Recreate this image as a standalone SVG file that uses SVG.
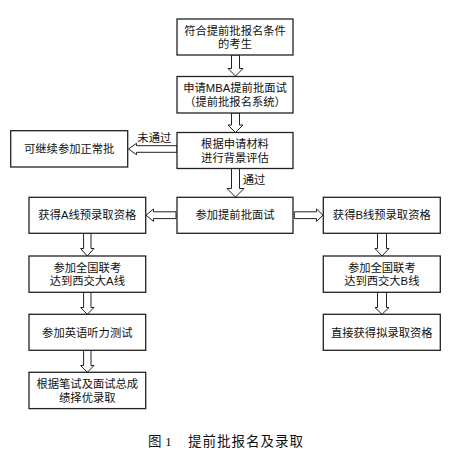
<svg xmlns="http://www.w3.org/2000/svg" width="468" height="460" viewBox="0 0 468 460">
<style>
.box{fill:#fff;stroke:#222;stroke-width:1.3}
.arr{fill:#fff;stroke:#222;stroke-width:1}
.t{font-family:"Liberation Sans","Noto Sans CJK SC",sans-serif;font-size:11.3px;fill:#111;text-anchor:middle}
.cap{font-family:"Liberation Serif","Noto Sans CJK SC",serif;font-size:13.5px;fill:#111}
</style>
<rect width="468" height="460" fill="#fff"/>
<g id="connectors">
<polygon class="arr" points="231.5,55 239.5,55 239.5,68.5 243,68.5 235.5,76 228,68.5 231.5,68.5"/>
<polygon class="arr" points="231.5,113 239.5,113 239.5,125 243,125 235.5,132.5 228,125 231.5,125"/>
<polygon class="arr" points="231.5,168.5 239.5,168.5 239.5,188.5 244,188.5 235.5,197 227,188.5 231.5,188.5"/>
<polygon class="arr" points="177,145.7 136.5,145.7 136.5,143.3 128.5,149 136.5,154.7 136.5,152.3 177,152.3"/>
<polygon class="arr" points="176,211.8 153.5,211.8 153.5,209 146,215.2 153.5,221.4 153.5,218.6 176,218.6"/>
<polygon class="arr" points="294.3,211.8 316.5,211.8 316.5,209 323,215.2 316.5,221.4 316.5,218.6 294.3,218.6"/>
<polygon class="arr" points="83.6,233.3 91,233.3 91,248.5 94,248.5 87.3,256 80.6,248.5 83.6,248.5"/>
<polygon class="arr" points="83.6,292.3 91,292.3 91,307.5 94,307.5 87.3,314.3 80.6,307.5 83.6,307.5"/>
<polygon class="arr" points="83.6,350.3 91,350.3 91,365.5 94,365.5 87.3,372.3 80.6,365.5 83.6,365.5"/>
<polygon class="arr" points="377.5,233.3 386.5,233.3 386.5,248.5 389,248.5 382,256 375,248.5 377.5,248.5"/>
<polygon class="arr" points="377.5,292.3 386.5,292.3 386.5,307.5 389,307.5 382,314.3 375,307.5 377.5,307.5"/>
<text class="t" x="154.3" y="141.5">未通过</text>
<text class="t" x="254" y="183.5">通过</text>
</g>
<g id="n1"><rect class="box" x="177" y="19" width="116" height="36"/><text class="t" x="235" y="34.8">符合提前批报名条件</text><text class="t" x="235" y="48.3">的考生</text></g>
<g id="n2"><rect class="box" x="177" y="76.5" width="116" height="36.5"/><text class="t" x="235" y="92.3">申请MBA提前批面试</text><text class="t" x="235" y="105.8">（提前批报名系统）</text></g>
<g id="n3"><rect class="box" x="177" y="132.5" width="116" height="36"/><text class="t" x="235" y="148.3">根据申请材料</text><text class="t" x="235" y="161.8">进行背景评估</text></g>
<g id="n4"><rect class="box" x="10.7" y="130.7" width="117" height="36.3"/><text class="t" x="69.2" y="152.8">可继续参加正常批</text></g>
<g id="n5"><rect class="box" x="177" y="197.3" width="116" height="36"/><text class="t" x="235" y="219.3">参加提前批面试</text></g>
<g id="a1"><rect class="box" x="29" y="197.3" width="116.7" height="36"/><text class="t" x="87.3" y="219.3">获得A线预录取资格</text></g>
<g id="b1"><rect class="box" x="323.3" y="197.3" width="117" height="36"/><text class="t" x="381.8" y="219.3">获得B线预录取资格</text></g>
<g id="a2"><rect class="box" x="29" y="256" width="116.7" height="36.3"/><text class="t" x="87.3" y="271.5">参加全国联考</text><text class="t" x="87.3" y="285">达到西交大A线</text></g>
<g id="b2"><rect class="box" x="323.3" y="256" width="117" height="36.3"/><text class="t" x="381.8" y="271.5">参加全国联考</text><text class="t" x="381.8" y="285">达到西交大B线</text></g>
<g id="a3"><rect class="box" x="29" y="314.3" width="116.7" height="36"/><text class="t" x="87.3" y="336.5">参加英语听力测试</text></g>
<g id="b3"><rect class="box" x="323.3" y="314.3" width="117" height="36"/><text class="t" x="381.8" y="336.5">直接获得拟录取资格</text></g>
<g id="a4"><rect class="box" x="29" y="372.3" width="116.7" height="36.3"/><text class="t" x="87.3" y="388">根据笔试及面试总成</text><text class="t" x="87.3" y="401.5">绩择优录取</text></g>
<text class="cap" x="148" y="445.5">图 <tspan font-family="Liberation Serif">1</tspan></text>
<text class="cap" x="188" y="445.5" letter-spacing="1">提前批报名及录取</text>
</svg>
